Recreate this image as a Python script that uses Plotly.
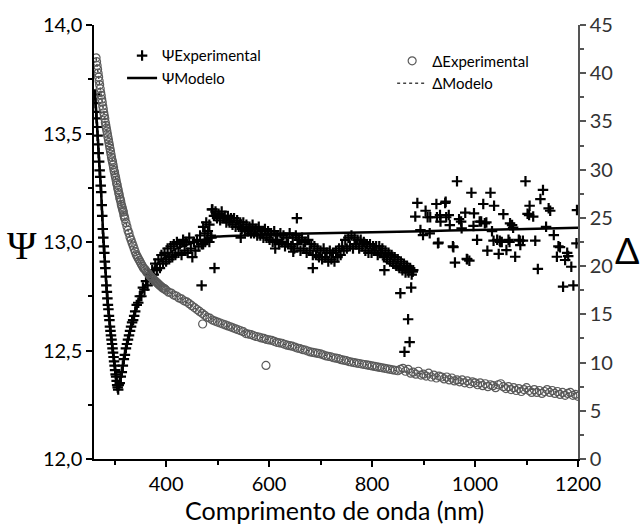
import plotly.graph_objects as go

# ---------------- data ----------------
# Psi experimental: dip region (1 nm / 2 nm), dense band (3 nm), sparse tail and outliers
psi_dip_x = [262, 263, 264, 265, 266, 267, 268, 269, 270, 271, 272, 273, 274, 275, 276, 277,
             278, 279, 280, 281, 282, 283, 284, 285, 286, 287, 288, 289, 290, 291, 292, 293,
             294, 295, 296, 297, 298, 299, 300, 301, 302, 303, 304, 305, 306, 307, 308,
             310, 312, 314, 316, 318, 320, 322, 324, 326, 328, 330, 332, 334, 336, 338]
psi_dip_y = [13.68, 13.64, 13.60, 13.57, 13.53, 13.49, 13.45, 13.41, 13.37, 13.33, 13.30, 13.26,
             13.23, 13.17, 13.12, 13.06, 13.02, 12.98, 12.95, 12.91, 12.88, 12.84, 12.80, 12.77,
             12.74, 12.71, 12.69, 12.66, 12.64, 12.61, 12.59, 12.57, 12.55, 12.53, 12.51, 12.49,
             12.47, 12.45, 12.43, 12.41, 12.39, 12.38, 12.36, 12.34, 12.33, 12.32, 12.34,
             12.35, 12.38, 12.40, 12.43, 12.46, 12.48, 12.51, 12.53, 12.55, 12.57, 12.59, 12.61,
             12.63, 12.64, 12.66]

psi_band_x = [340, 343, 346, 349, 352, 355, 358, 361, 364, 367, 370, 373, 376, 379, 382, 385,
              388, 391, 394, 397, 400, 403, 406, 409, 412, 415, 418, 421, 424, 427, 430, 433,
              436, 439, 442, 445, 448, 451, 454, 457, 460, 463, 466, 469, 472, 475, 478, 481,
              484, 487, 490, 493, 496, 499, 502, 505, 508, 511, 514, 517, 520, 523, 526, 529,
              532, 535, 538, 541, 544, 547, 550, 553, 556, 559, 562, 565, 568, 571, 574, 577,
              580, 583, 586, 589, 592, 595, 598, 601, 604, 607, 610, 613, 616, 619, 622, 625,
              628, 631, 634, 637, 640, 643, 646, 649, 652, 655, 658, 661, 664, 667, 670, 673,
              676, 679, 682, 685, 688, 691, 694, 697, 700, 703, 706, 709, 712, 715, 718, 721,
              724, 727, 730, 733, 736, 739, 742, 745, 748, 751, 754, 757, 760, 763, 766, 769,
              772, 775, 778, 781, 784, 787, 790, 793, 796, 799, 802, 805, 808, 811, 814, 817,
              820, 823, 826, 829, 832, 835, 838, 841, 844, 847, 850, 853, 856, 859, 862, 865,
              868, 871, 874, 877, 880]
psi_band_y = [12.68, 12.71, 12.72, 12.75, 12.75, 12.79, 12.78, 12.82, 12.80, 12.85, 12.83, 12.87,
              12.85, 12.90, 12.87, 12.92, 12.88, 12.94, 12.90, 12.95, 12.91, 12.97, 12.92, 12.98,
              12.93, 12.99, 12.94, 13.00, 12.95, 12.99, 12.94, 13.01, 12.96, 13.00, 12.95, 13.02,
              12.97, 12.93, 13.00, 12.96, 13.01, 12.98, 13.03, 12.99, 13.07, 13.04, 13.09, 13.05,
              13.08, 13.03, 13.15, 13.12, 13.14, 13.11, 13.13, 13.10, 13.14, 13.11, 13.12, 13.09,
              13.12, 13.09, 13.11, 13.08, 13.11, 13.07, 13.10, 13.07, 13.09, 13.06, 13.09, 13.05,
              13.08, 13.05, 13.07, 13.04, 13.08, 13.04, 13.06, 13.03, 13.07, 13.03, 13.05, 13.02,
              13.06, 13.02, 13.05, 13.01, 13.04, 13.00, 13.05, 13.01, 13.03, 12.99, 13.04, 13.00,
              13.03, 12.98, 13.02, 12.99, 13.04, 12.98, 13.02, 12.97, 13.03, 12.99, 13.01, 12.96,
              13.02, 12.97, 13.00, 12.95, 13.01, 12.96, 12.99, 12.94, 12.98, 12.94, 12.97, 12.93,
              12.96, 12.92, 12.97, 12.93, 12.95, 12.91, 12.96, 12.92, 12.95, 12.91, 12.96, 12.93,
              12.97, 12.94, 12.98, 12.96, 13.01, 12.97, 13.02, 12.98, 13.03, 12.97, 13.02, 12.99,
              13.01, 12.97, 13.01, 12.98, 13.00, 12.96, 12.99, 12.95, 12.99, 12.95, 12.98, 12.96,
              12.98, 12.94, 12.98, 12.95, 12.97, 12.93, 12.96, 12.92, 12.95, 12.91, 12.94, 12.90,
              12.93, 12.89, 12.92, 12.88, 12.91, 12.87, 12.90, 12.86, 12.89, 12.86, 12.88, 12.85,
              12.87]

psi_extra_x = [472, 476, 480, 484, 488, 469, 494, 489, 545, 612, 647, 654, 685, 824, 855,
               876, 870, 873, 863, 879,
               884, 888, 894, 899, 904, 908, 913, 912, 925, 926, 928, 929, 932, 933, 942, 943,
               944, 949, 951, 957, 958, 961, 965, 969, 973, 974, 981, 984, 985, 989, 993, 997,
               998, 1004, 1009, 1012, 1016, 1019, 1022, 1024, 1030, 1033, 1036, 1037, 1043,
               1046, 1048, 1049, 1052, 1055, 1061, 1065, 1067, 1068, 1072, 1074, 1078, 1085,
               1087, 1088, 1093, 1098, 1102, 1105, 1106, 1113, 1117, 1122, 1127, 1132, 1138,
               1143, 1146, 1153, 1159, 1162, 1165, 1171, 1175, 1179, 1181, 1187, 1191, 1197, 1198]
psi_extra_y = [12.99, 13.00, 13.01, 13.00, 13.02, 12.80, 12.88, 13.15, 13.02, 12.97, 12.955,
               13.11, 12.88, 12.87, 12.764, 12.79, 12.644, 12.539, 12.494, 12.863,
               13.117, 13.18, 13.055, 13.032, 13.144, 13.114, 13.114, 13.04, 13.175, 13.114,
               12.994, 12.997, 13.124, 13.094, 13.18, 13.186, 13.114, 13.124, 13.078, 12.98,
               12.976, 12.905, 13.28, 13.105, 13.094, 13.063, 13.135, 12.922, 12.92, 12.914,
               13.227, 13.074, 13.132, 13.01, 13.094, 13.094, 13.175, 13.086, 13.09, 12.96,
               13.227, 13.05, 13.006, 13.167, 13.01, 12.945, 13.006, 13.0, 13.0, 13.128, 12.963,
               13.01, 13.0, 13.086, 13.078, 13.066, 12.932, 13.01, 13.006, 12.986, 13.006, 13.28,
               13.13, 13.124, 13.167, 13.117, 13.006, 12.876, 13.198, 13.24, 13.07, 13.155,
               13.144, 13.032, 12.932, 12.98, 12.976, 12.794, 12.917, 12.95, 12.935, 12.886,
               12.80, 12.994, 13.147]

# Psi model (solid line)
psi_mod_x = [262, 266, 270, 274, 278, 282, 286, 290, 294, 298, 302, 306, 310, 314, 318, 322,
             326, 330, 340, 350, 360, 370, 380, 400, 420, 450, 480, 500, 550, 600, 700, 800,
             900, 1000, 1100, 1200]
psi_mod_y = [13.68, 13.53, 13.37, 13.22, 13.03, 12.88, 12.74, 12.64, 12.55, 12.47, 12.40, 12.34,
             12.35, 12.40, 12.46, 12.51, 12.55, 12.59, 12.68, 12.75, 12.80, 12.85, 12.89, 12.935,
             12.97, 12.995, 13.015, 13.025, 13.03, 13.035, 13.04, 13.045, 13.05, 13.055, 13.06,
             13.066]

# Delta experimental (open circles, right axis)
delta_x = [264, 265, 266, 267, 268, 269, 270, 271, 272, 273, 274, 275, 276, 277, 278, 279, 280,
           281, 282, 283, 284, 285, 286, 287, 288, 289, 290, 291, 292, 293, 294, 295, 296, 297,
           298, 299, 300, 301, 302, 303, 304, 305, 306, 307, 308, 309, 310, 311, 312, 313, 314,
           315, 316, 317, 318, 319, 320,
           322, 324, 326, 328, 330, 332, 334, 336, 338, 340, 342, 344, 346, 348, 350, 352, 354,
           356, 358, 360, 362, 364, 366, 368, 370, 372, 374, 376, 378, 380, 382, 384, 386, 388,
           390, 392, 394, 396, 398, 400,
           405, 410, 415, 420, 425, 430, 435, 440, 445, 450, 455, 460, 465, 470, 475, 480, 485,
           490, 495, 500, 505, 510, 515, 520, 525, 530, 535, 540, 545, 550, 555, 560, 565, 570,
           575, 580, 585, 590, 595, 600, 605, 610, 615, 620, 625, 630, 635, 640, 645, 650, 655,
           660, 665, 670, 675, 680, 685, 690, 695, 700, 705, 710, 715, 720, 725, 730, 735, 740,
           745, 750, 755, 760, 765, 770, 775, 780, 785, 790, 795, 800, 805, 810, 815, 820, 825,
           830, 835, 840, 845, 850,
           855, 860, 865, 870, 875, 880, 885, 890, 895, 900, 905, 910, 915, 920, 925, 930, 935,
           940, 945, 950, 955, 960, 965, 970, 975, 980, 985, 990, 995, 1000, 1005, 1010, 1015,
           1020, 1025, 1030, 1035, 1040, 1045, 1050, 1055, 1060, 1065, 1070, 1075, 1080, 1085,
           1090, 1095, 1100, 1105, 1110, 1115, 1120, 1125, 1130, 1135, 1140, 1145, 1150, 1155,
           1160, 1165, 1170, 1175, 1180, 1185, 1190, 1195, 1200,
           471, 594]
delta_y = [41.6, 41.2, 40.8, 40.4, 40.0, 39.6, 39.2, 38.8, 38.4, 38.0, 37.7, 37.3, 37.0, 36.6,
           36.3, 35.9, 35.6, 35.3, 34.9, 34.6, 34.3, 34.0, 33.7, 33.4, 33.1, 32.8, 32.5, 32.2,
           31.9, 31.6, 31.3, 31.0, 30.8, 30.5, 30.2, 29.9, 29.7, 29.4, 29.2, 28.9, 28.6, 28.4,
           28.1, 27.9, 27.6, 27.4, 27.1, 26.9, 26.7, 26.4, 26.2, 26.0, 25.8, 25.6, 25.3, 25.1,
           24.9,
           24.5, 24.1, 23.7, 23.4, 23.0, 22.7, 22.4, 22.1, 21.8, 21.5, 21.2, 21.0, 20.8, 20.6,
           20.4, 20.2, 20.0, 19.8, 19.7, 19.6, 19.4, 19.3, 19.2, 19.0, 18.9, 18.8, 18.7, 18.6,
           18.5, 18.4, 18.3, 18.2, 18.1, 18.0, 17.9, 17.8, 17.7, 17.7, 17.6, 17.5,
           17.3, 17.2, 17.0, 16.9, 16.7, 16.6, 16.4, 16.3, 16.1, 15.9, 15.7, 15.5, 15.3, 15.1,
           14.9, 14.7, 14.6, 14.4, 14.3, 14.2, 14.1, 14.0, 13.9, 13.8, 13.7, 13.6, 13.5, 13.4,
           13.3, 13.2, 13.0, 12.95, 12.9, 12.8, 12.7, 12.65, 12.55, 12.5, 12.4, 12.35, 12.3,
           12.2, 12.1, 12.05, 12.0, 11.9, 11.8, 11.75, 11.7, 11.6, 11.5, 11.45, 11.35, 11.3,
           11.2, 11.1, 11.05, 11.0, 10.95, 10.9, 10.8, 10.7, 10.65, 10.6, 10.5, 10.45, 10.4,
           10.3, 10.25, 10.2, 10.1, 10.05, 10.0, 9.95, 9.9, 9.85, 9.8, 9.75, 9.7, 9.65, 9.6,
           9.55, 9.5, 9.45, 9.4, 9.35, 9.3, 9.25, 9.2, 9.15,
           9.3, 9.4, 9.1, 9.3, 8.9, 9.0, 8.8, 9.1, 8.7, 8.8, 8.6, 8.9, 8.5, 8.7, 8.4, 8.6, 8.5,
           8.3, 8.5, 8.2, 8.4, 8.1, 8.2, 8.0, 8.2, 7.9, 8.1, 7.8, 8.0, 7.9, 7.7, 7.9, 7.6, 7.8,
           7.5, 7.7, 7.6, 7.4, 7.7, 7.8, 7.5, 7.3, 7.5, 7.2, 7.4, 7.1, 7.3, 7.0, 7.2, 7.4, 7.1,
           6.9, 7.2, 6.9, 7.1, 6.8, 7.0, 7.2, 6.9, 7.1, 6.8, 7.0, 6.7, 6.9, 6.6, 6.8, 6.9, 6.6,
           6.7, 6.5,
           14.0, 9.7]

# Delta model (dotted line)
delta_mod_x = [264, 270, 280, 290, 300, 310, 320, 330, 340, 350, 360, 380, 400, 430, 460, 500,
               550, 600, 650, 700, 750, 800, 850, 900, 950, 1000, 1050, 1100, 1150, 1200]
delta_mod_y = [41.6, 39.2, 35.6, 32.5, 29.7, 27.1, 24.9, 23.0, 21.5, 20.4, 19.6, 18.4, 17.5,
               16.6, 15.5, 14.2, 13.2, 12.35, 11.6, 10.9, 10.2, 9.65, 9.15, 8.8, 8.35, 7.95,
               7.6, 7.3, 7.0, 6.7]

psi_x = psi_dip_x + psi_band_x + psi_extra_x
psi_y = psi_dip_y + psi_band_y + psi_extra_y

FONT = "Lato"

fig = go.Figure()
fig.add_trace(go.Scatter(
    x=psi_x, y=psi_y, mode="markers", name="ΨExperimental", legend="legend",
    marker=dict(symbol="cross-thin", size=7.5, color="black",
                line=dict(color="black", width=2.2)),
    yaxis="y"))
fig.add_trace(go.Scatter(
    x=psi_mod_x, y=psi_mod_y, mode="lines", name="ΨModelo", legend="legend",
    line=dict(color="black", width=2.5, shape="spline", smoothing=0.6), yaxis="y"))
fig.add_trace(go.Scatter(
    x=delta_mod_x, y=delta_mod_y, mode="lines", name="ΔModelo", legend="legend2",
    line=dict(color="#444", width=1.5, dash="dot", shape="spline", smoothing=0.6),
    yaxis="y2"))
fig.add_trace(go.Scatter(
    x=delta_x, y=delta_y, mode="markers", name="ΔExperimental", legend="legend2",
    marker=dict(symbol="circle-open", size=8, color="#5a5a5a",
                line=dict(color="#5a5a5a", width=1.2)),
    yaxis="y2"))

fig.update_layout(
    width=644, height=527,
    margin=dict(l=94, r=66, t=25, b=68),
    plot_bgcolor="white", paper_bgcolor="white",
    separators=",.",
    font=dict(family=FONT, size=20, color="black"),
    xaxis=dict(range=[260, 1200], showgrid=False, zeroline=False,
               showline=True, linecolor="black", linewidth=1.5,
               ticks="outside", ticklen=6, tickwidth=1.5, tickcolor="black",
               tick0=0, dtick=200,
               minor=dict(ticks="outside", ticklen=4, tick0=0, dtick=100,
                          tickcolor="black", tickwidth=1.5),
               tickfont=dict(family=FONT, size=20, color="black")),
    yaxis=dict(range=[12, 14], showgrid=False, zeroline=False,
               showline=True, linecolor="black", linewidth=1.5,
               ticks="outside", ticklen=6, tickwidth=1.5, tickcolor="black",
               tick0=12, dtick=0.5, tickformat=".1f",
               minor=dict(ticks="outside", ticklen=4, tick0=12, dtick=0.25,
                          tickcolor="black", tickwidth=1.5),
               tickfont=dict(family=FONT, size=20, color="black")),
    yaxis2=dict(range=[0, 45], overlaying="y", side="right", anchor="x",
                showgrid=False, zeroline=False,
                showline=True, linecolor="#555", linewidth=1.5,
                ticks="outside", ticklen=6, tickwidth=1.5, tickcolor="#555",
                tick0=0, dtick=5,
                minor=dict(ticks="outside", ticklen=4, tick0=0, dtick=2.5,
                           tickcolor="#555", tickwidth=1.5),
                tickfont=dict(family=FONT, size=20, color="#333")),
    legend=dict(x=0.058, y=0.967, xanchor="left", yanchor="top",
                bgcolor="rgba(0,0,0,0)", borderwidth=0,
                font=dict(family=FONT, size=15, color="black"),
                tracegroupgap=0, itemwidth=30),
    legend2=dict(x=0.616, y=0.955, xanchor="left", yanchor="top",
                 bgcolor="rgba(0,0,0,0)", borderwidth=0,
                 font=dict(family=FONT, size=15, color="black"),
                 tracegroupgap=0, itemwidth=30, traceorder="reversed"),
    annotations=[
        dict(text="Ψ", xref="paper", yref="paper", x=-0.149, y=0.493,
             xanchor="center", yanchor="middle", showarrow=False,
             font=dict(family="Liberation Serif", size=40, color="black")),
        dict(text="Δ", xref="paper", yref="paper", x=1.102, y=0.482,
             xanchor="center", yanchor="middle", showarrow=False,
             font=dict(family=FONT, size=36, color="black")),
        dict(text="Comprimento de onda (nm)", xref="paper", yref="paper",
             x=0.497, y=-0.1175, xanchor="center", yanchor="middle", showarrow=False,
             font=dict(family=FONT, size=25, color="black")),
    ],
)

fig.write_html("out.html")
